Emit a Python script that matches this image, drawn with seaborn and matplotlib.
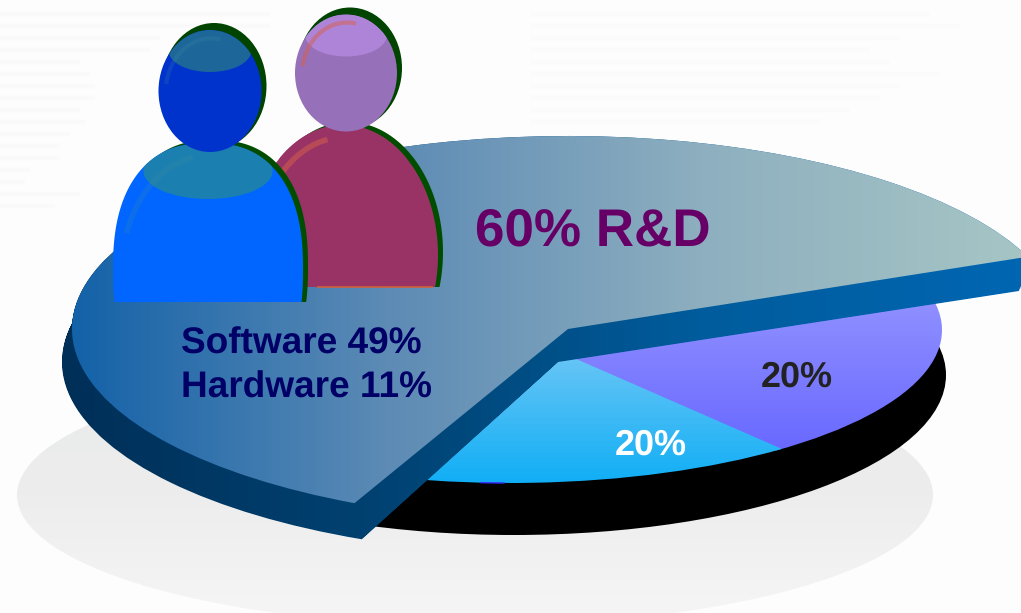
import numpy as np
import matplotlib
matplotlib.use('Agg')
import matplotlib.pyplot as plt
from matplotlib.patches import Ellipse, Rectangle, Arc, PathPatch
from matplotlib.path import Path
from matplotlib.transforms import Affine2D
import seaborn as sns

# shares shown on the chart
rd_share = [60, 40]
other_shares = [20, 20, 60]
rd_label = '60% R&D'
split_label = 'Software 49%\nHardware 11%'
other_labels = ['20%', '20%']

sns.set_theme(style='white')
plt.rcParams['font.family'] = ['Liberation Sans', 'DejaVu Sans']
plt.rcParams['text.hinting'] = 'no_hinting'
plt.rcParams['text.hinting_factor'] = 1

W, H = 1021, 613
fig = plt.figure(figsize=(W / 100, H / 100), dpi=100, facecolor='#fdfdfd')
ax = fig.add_axes([0, 0, 1, 1])


def gradient(colors, extent, clip, horizontal=True, z=1):
    cmap = sns.blend_palette(colors, n_colors=256, as_cmap=True)
    ramp = np.linspace(0, 1, 256)
    ramp = ramp[None, :] if horizontal else ramp[:, None]
    im = ax.imshow(ramp, cmap=cmap, extent=extent, aspect='auto', zorder=z)
    if isinstance(clip, Path):
        im.set_clip_path(clip, transform=ax.transData)
    else:
        im.set_clip_path(clip)
    return im


def squash(cx, cy, rx, ry):
    return Affine2D().scale(rx, -ry).translate(cx, cy)


def blob(cx, cy, rx, ry, n):
    # superellipse, n=2 is a plain ellipse
    t = np.linspace(0, 2 * np.pi, 200)
    x = cx + rx * np.sign(np.cos(t)) * np.abs(np.cos(t)) ** (2 / n)
    y = cy + ry * np.sign(np.sin(t)) * np.abs(np.sin(t)) ** (2 / n)
    return Path(np.column_stack([x, y]), closed=False)


# faint washed out text in the background
streak_y = [14, 26, 38, 50, 62, 74, 86, 98, 110, 122, 134, 146, 158, 170, 182, 194, 206]
streak_end = [270, 270, 160, 150, 80, 90, 95, 95, 80, 85, 70, 60, 60, 30, 25, 80, 55]
ax.hlines(streak_y, 0, streak_end, color='#fafafa', lw=3, zorder=0)
ax.hlines(streak_y[:10], 530, [930, 960, 900, 870, 890, 940, 900, 880, 850, 820], color='#fbfbfb', lw=3, zorder=0)

# floor shadow
floor = Ellipse((475, 495), 916, 262, transform=ax.transData, fc='none', ec='none')
ax.add_patch(floor)
gradient(['#e9eaea', '#ecedec', '#f6f6f6'], (17, 933, 626, 364), floor, horizontal=False, z=1)

# lower pie, black side first
ax.add_patch(Ellipse((514, 375), 864, 320, fc='black', ec='none', zorder=2))
low_wedges, _ = ax.pie(other_shares, startangle=-123, radius=1, center=(0, 0), frame=True)
low_tf = squash(510, 330, 432, 153)
for w in low_wedges:
    w.set_visible(False)
blue, purple = low_wedges[0], low_wedges[1]
# purple runs a little under the blue so no seam shows between them
gradient(['#9090ff', '#6868ff'], (0, W, 452, 300),
         low_tf.transform_path(Path.wedge(purple.theta1 - 1, purple.theta2)), horizontal=False, z=3)
gradient(['#66c5f6', '#10aef5'], (0, W, 484, 358),
         low_tf.transform_path(Path.wedge(blue.theta1, blue.theta2)), horizontal=False, z=3.1)
ax.add_patch(Arc((510, 330), 864, 306, theta1=92, theta2=101, color='#3a2cff', lw=1, zorder=3.5))

# raised R&D slice. Drawn slightly wider than its share, the tilt in the picture opens it up
top_wedges, _ = ax.pie(rd_share, startangle=25, radius=1, center=(0, 0), frame=True)
for w in top_wedges:
    w.set_visible(False)
t1, t2 = top_wedges[0].theta1, top_wedges[0].theta2
top_path = squash(568, 329, 496, 193).transform_path(Path.wedge(t1 - 3, t2 + 3.5))

side = []
for f in np.linspace(0, 1, 40):
    side.append(squash(568 - 10 * f ** 2, 329 + 33 * f, 496, 193).transform_path(
        Path.wedge(t1 - 3 - 0.4 * f, t2 + 3.5 + 2.2 * f)))
side_path = Path.make_compound_path(*side)
gradient(['#002f58', '#004272', '#005c9c', '#0066b2'], (60, W, 560, 100), side_path, z=4)
gradient(['#1462a8', '#5d8bb5', '#8eafbf', '#a5c5c5'], (72, W, 560, 100), top_path, z=5)

# text on the slices
ax.text(475, 232, rd_label, color='#660066', fontsize=38, fontweight='bold', va='center', ha='left', zorder=6)
ax.text(181, 366, split_label, color='#000066', fontsize=26.7, fontweight='bold', va='center', ha='left',
        linespacing=1.36, zorder=6)
ax.text(797, 377, other_labels[0], color='#222222', fontsize=26, fontweight='bold', va='center', ha='center', zorder=6)
ax.text(651, 445, other_labels[1], color='white', fontsize=26, fontweight='bold', va='center', ha='center', zorder=6)


def person(head, body, floor_y, cols, z, shine, shine_alpha, n):
    hx, hy, hw, hh = head
    bx, by, bw, bh = body
    box = Rectangle((0, 0), W, floor_y, transform=ax.transData)
    back = PathPatch(blob(bx + 5, by - 3, bw / 2, bh / 2, n), fc='#004d00', ec='none', zorder=z)
    ax.add_patch(back)
    back.set_clip_path(box)
    front = PathPatch(blob(bx, by, bw / 2, bh / 2, n), fc=cols['body'], ec='none', zorder=z + 0.1)
    ax.add_patch(front)
    front.set_clip_path(box)
    glow = Ellipse((bx, by - bh / 2 + 28), bw * 0.68, 56, fc=cols['body_glow'], ec='none', zorder=z + 0.2)
    ax.add_patch(glow)
    glow.set_clip_path(front)
    ax.add_patch(Ellipse((hx + 4, hy - 5), hw + 2, hh + 4, fc='#004400', ec='none', zorder=z + 0.3))
    skull = Ellipse((hx, hy), hw, hh, fc=cols['head'], ec='none', zorder=z + 0.4)
    ax.add_patch(skull)
    cap = Ellipse((hx, hy - hh / 2 + 21), hw * 0.8, 42, fc=cols['head_glow'], ec='none', zorder=z + 0.5)
    ax.add_patch(cap)
    cap.set_clip_path(skull)
    # curved shine on the left of head and shoulder
    a1 = Arc((hx + 1, hy + 1), hw * 0.88, hh * 0.88, theta1=190, theta2=280, color=shine, lw=3,
             alpha=shine_alpha, zorder=z + 0.6)
    a2 = Arc((bx + 1, by + 2), bw * 0.92, bh * 0.92, theta1=205, theta2=262, color=shine, lw=4,
             alpha=shine_alpha, zorder=z + 0.25)
    ax.add_patch(a1)
    ax.add_patch(a2)


person((346, 73, 102, 117), (343, 255, 190, 260), 287,
       {'body': '#993366', 'body_glow': '#993366', 'head': '#9670b8', 'head_glow': '#ae84d8'}, 7, '#d8604a', 0.5, 2)
ax.hlines(287, 317, 433, color='#d0603a', lw=1.2, zorder=7.7)
person((210, 91, 103, 122), (208, 270, 190, 254), 302,
       {'body': '#0066ff', 'body_glow': '#1b80b0', 'head': '#0033cc', 'head_glow': '#1d6699'}, 8, '#3f8f9f', 0.2, 2.4)

ax.set_xlim(0, W)
ax.set_ylim(H, 0)
ax.set_aspect('auto')
ax.set_axis_off()
fig.savefig('out.png', dpi=100, facecolor=fig.get_facecolor())
